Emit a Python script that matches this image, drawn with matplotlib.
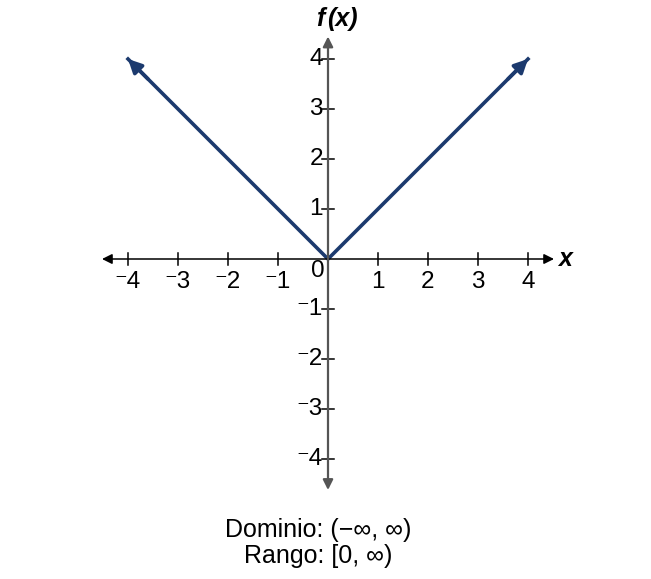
import matplotlib
matplotlib.use("Agg")
import matplotlib.pyplot as plt
import numpy as np

plt.rcParams['font.family'] = ['Liberation Sans', 'DejaVu Sans']

# data
x_vals = [-4, 0, 4]
y_vals = [4, 0, 4]
ticks = [-4, -3, -2, -1, 1, 2, 3, 4]
line_color = '#1c3a6e'

fig = plt.figure(figsize=(6.51, 5.79), dpi=100)
ax = fig.add_axes([0, 0, 1, 1])
ax.set_xlim(-6.56, 6.46)
ax.set_ylim(-6.4, 5.18)
ax.axis('off')

# axes with arrows
ax.annotate('', xy=(4.52, 0), xytext=(-4.52, 0),
            arrowprops=dict(arrowstyle='<|-|>', color='black', lw=1.1,
                            mutation_scale=15, shrinkA=0, shrinkB=0))
ax.annotate('', xy=(0, 4.45), xytext=(0, -4.62),
            arrowprops=dict(arrowstyle='<|-|>', color='#555555', lw=1.6,
                            mutation_scale=15, shrinkA=0, shrinkB=0))

def lab(v):
    return '\u207b%d' % -v if v < 0 else '%d' % v

for t in ticks:
    ax.plot([t, t], [-0.12, 0.12], color='black', lw=1.1)
    ax.text(t, -0.46, lab(t), ha='center', va='center', fontsize=17.5)
    ax.plot([-0.12, 0.12], [t, t], color='black', lw=1.1)
    ax.text(-0.1, t, lab(t), ha='right', va='center', fontsize=17.5)
ax.text(-0.2, -0.24, '0', ha='center', va='center', fontsize=17.5)

# the function
ax.plot(x_vals, y_vals, color=line_color, lw=2.6, solid_joinstyle='miter')
for i in (0, 2):
    ax.annotate('', xy=(x_vals[i], y_vals[i]),
                xytext=(x_vals[i] * 0.9, y_vals[i] * 0.9),
                arrowprops=dict(arrowstyle='-|>', color=line_color, lw=2.6,
                                mutation_scale=20, shrinkA=0, shrinkB=0))

ax.text(-0.07, 4.8, 'f', fontsize=18, fontweight='bold', style='italic',
        ha='right', va='center')
ax.text(-0.02, 4.8, '(x)', fontsize=18, fontweight='bold', style='italic',
        ha='left', va='center')
ax.text(4.6, 0.0, 'x', fontsize=18, fontweight='bold', style='italic',
        ha='left', va='center')

ax.text(-0.2, -5.42, 'Dominio: (\u2212\u221e, \u221e)', ha='center', va='center', fontsize=18)
ax.text(-0.2, -5.93, 'Rango: [0, \u221e)', ha='center', va='center', fontsize=18)

fig.savefig('out.png', dpi=100)
